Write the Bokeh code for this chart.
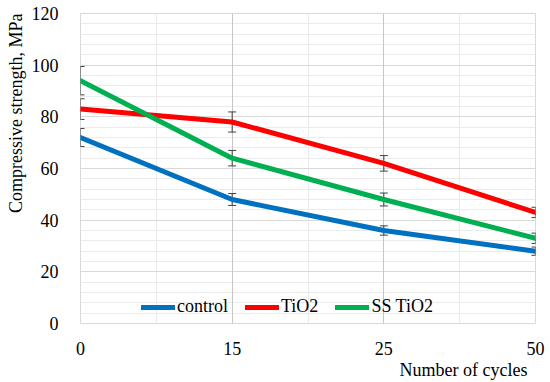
from bokeh.plotting import figure
from bokeh.models import (ColumnDataSource, Whisker, FixedTicker, Legend, LegendItem,
                          Range1d, TeeHead, Title, Grid)
from bokeh.embed import file_html
from bokeh.resources import INLINE

cycles = ["0", "15", "25", "50"]
control = [72, 48, 36, 28]
control_err = [3.5, 2.3, 1.8, 1.6]
tio2 = [83, 78, 62, 43]
tio2_err = [4.0, 3.9, 3.0, 2.0]
ss_tio2 = [94, 64, 48, 33]
ss_tio2_err = [5.5, 3.0, 2.5, 2.0]
y_ticks = [0, 20, 40, 60, 80, 100, 120]
y_minor = list(range(0, 121, 4))

series = [
    ("control", control, control_err, "#0070C0"),
    ("TiO2", tio2, tio2_err, "#FF0000"),
    ("SS TiO2", ss_tio2, ss_tio2_err, "#00B050"),
]

FONT = "Liberation Serif"
xs = list(range(len(cycles)))
x_minor = [i + 0.5 for i in xs[:-1]]

p = figure(width=550, height=382, output_backend="svg", toolbar_location=None,
           x_range=Range1d(0, len(cycles) - 1), y_range=Range1d(0, 120),
           min_border_left=75, min_border_right=15, min_border_top=13, min_border_bottom=59)
p.outline_line_color = "#d9d9d9"
p.outline_line_width = 1

xticker = FixedTicker(ticks=xs, minor_ticks=x_minor)
yticker = FixedTicker(ticks=y_ticks, minor_ticks=y_minor)
p.xaxis.ticker = xticker
p.xaxis.major_label_overrides = {i: c for i, c in enumerate(cycles)}
p.yaxis.ticker = yticker

for ax in (p.xaxis[0], p.yaxis[0]):
    ax.axis_line_color = None
    ax.major_tick_line_color = None
    ax.minor_tick_line_color = None
    ax.major_label_text_font = FONT
    ax.major_label_text_font_size = "18px"
    ax.major_label_text_color = "#000000"

p.xaxis.major_label_standoff = 12
p.yaxis.major_label_standoff = 16

# grids: minor lines first, then major lines on top
grids = [
    Grid(dimension=1, ticker=yticker, grid_line_color=None, minor_grid_line_color="#ebebeb"),
    Grid(dimension=0, ticker=xticker, grid_line_color=None, minor_grid_line_color="#ebebeb"),
    Grid(dimension=1, ticker=yticker, grid_line_color="#d9d9d9", minor_grid_line_color=None),
    Grid(dimension=0, ticker=xticker, grid_line_color="#c6c6c6", minor_grid_line_color=None),
]
others = [r for r in p.center if not isinstance(r, Grid)]
p.center = grids + others

items = []
for name, vals, errs, color in series:
    src = ColumnDataSource(dict(x=xs, y=vals,
                                upper=[v + e for v, e in zip(vals, errs)],
                                lower=[v - e for v, e in zip(vals, errs)]))
    r = p.line("x", "y", source=src, line_color=color, line_width=5,
               line_join="round", line_cap="round")
    items.append(LegendItem(label=name, renderers=[r]))
    w = Whisker(source=src, base="x", upper="upper", lower="lower",
                line_color="#404040", line_width=1,
                upper_head=TeeHead(size=8, line_color="#404040", line_width=1),
                lower_head=TeeHead(size=8, line_color="#404040", line_width=1))
    p.add_layout(w)

legend = Legend(items=items, orientation="horizontal", location=(61, 6),
                background_fill_alpha=0, border_line_alpha=0, padding=0, margin=0,
                spacing=17, glyph_width=34, glyph_height=20, label_standoff=2,
                label_text_font=FONT, label_text_font_size="18px",
                label_text_color="#000000")
p.add_layout(legend, "center")

xtitle = Title(text="Number of cycles", align="right", offset=8, standoff=0,
               text_font=FONT, text_font_size="18px", text_font_style="normal",
               text_color="#000000")
ytitle = Title(text="Compressive strength, MPa", align="right", offset=0, standoff=6,
               text_font=FONT, text_font_size="18px", text_font_style="normal",
               text_color="#000000")
p.add_layout(xtitle, "below")
p.add_layout(ytitle, "left")

open("out.html", "w").write(file_html(p, INLINE))
